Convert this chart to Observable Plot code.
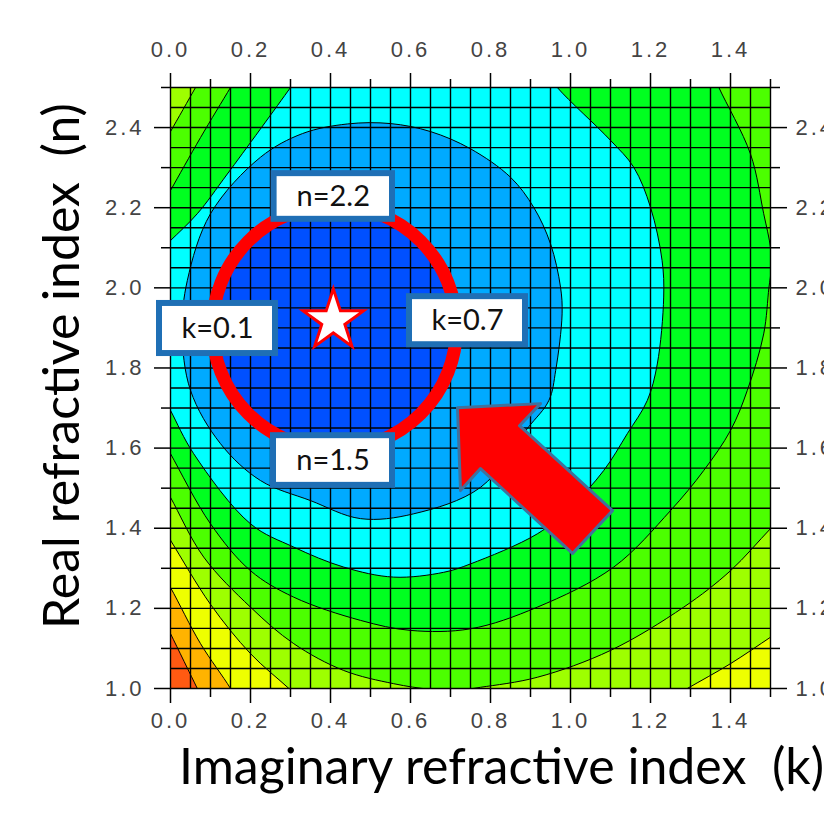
<!DOCTYPE html>
<html><head><meta charset="utf-8">
<script src="https://cdn.jsdelivr.net/npm/d3@7"></script>
<script src="https://cdn.jsdelivr.net/npm/@observablehq/plot@0.6"></script>
<style>
html,body{margin:0;padding:0;background:#fff;}
svg text{white-space:pre;}
g[aria-label$="tick label"] text{letter-spacing:3px;}
</style></head><body><div id="chart"></div>
<script>
// Axis ticks (k = imaginary index, n = real index)
const kMajorTicks = [0.0, 0.2, 0.4, 0.6, 0.8, 1.0, 1.2, 1.4];
const kMinorTicks = [0.1, 0.3, 0.5, 0.7, 0.9, 1.1, 1.3, 1.5];
const nMajorTicks = [1.0, 1.2, 1.4, 1.6, 1.8, 2.0, 2.2, 2.4];
const nMinorTicks = [1.1, 1.3, 1.5, 1.7, 1.9, 2.1, 2.3, 2.5];

// Contour band colours, level 0 (centre) to level 8 (bottom-left corner)
const levelColors = ["#0050FF", "#00AAFF", "#00FFFF", "#00FF20", "#4CFF00", "#9EFF00", "#EEFF00", "#FFB300", "#FF5A12"];

// Contour boundaries [k, n]: region "below level L"
const below1 = [[0.71,1.90],[0.67,2.05],[0.56,2.16],[0.41,2.20],[0.26,2.16],[0.15,2.05],[0.11,1.90],[0.15,1.75],[0.26,1.64],[0.41,1.60],[0.56,1.64],[0.67,1.75]];
const below2 = [[0.442,2.409],[0.55,2.41],[0.65,2.39],[0.75,2.347],[0.85,2.276],[0.908,2.201],[0.95,2.11],[0.975,2.002],[0.979,1.935],[0.963,1.794],[0.946,1.719],[0.893,1.65],[0.775,1.502],[0.608,1.436],[0.475,1.424],[0.35,1.469],[0.225,1.519],[0.125,1.611],[0.05,1.744],[0.029,1.893],[0.042,2.018],[0.1,2.185],[0.225,2.326],[0.33,2.385]];
const below3 = [[0.335,2.55],[0.3,2.5],[0.142,2.284],[0.067,2.185],[0,2.118],[-0.04,2.08],[-0.15,2.0],[-0.15,1.8],[-0.03,1.75],[0,1.694],[0.058,1.586],[0.2,1.411],[0.308,1.353],[0.433,1.303],[0.558,1.278],[0.683,1.29],[0.75,1.311],[0.917,1.386],[1.0,1.452],[1.083,1.544],[1.142,1.636],[1.192,1.719],[1.217,1.81],[1.233,1.977],[1.229,2.068],[1.2,2.201],[1.158,2.301],[1.10,2.368],[0.967,2.5],[0.93,2.55],[0.85,2.65],[0.4,2.65]];
const below4 = [[0.18,2.55],[0.15,2.5],[0.075,2.375],[0,2.243],[-0.03,2.19],[-0.15,2.1],[-0.15,1.7],[-0.03,1.64],[0,1.586],[0.1,1.411],[0.2,1.294],[0.308,1.228],[0.475,1.17],[0.6,1.145],[0.75,1.149],[0.917,1.203],[1.108,1.303],[1.25,1.444],[1.333,1.544],[1.4,1.644],[1.442,1.744],[1.483,1.885],[1.496,2.0],[1.502,2.05],[1.5,2.1],[1.483,2.185],[1.45,2.334],[1.371,2.5],[1.35,2.55],[1.3,2.65],[0.25,2.65]];
const below5 = [[0.09,2.55],[0.0625,2.5],[0,2.39],[-0.03,2.337],[-0.15,2.3],[-0.15,1.6],[-0.03,1.53],[0,1.477],[0.083,1.328],[0.2,1.203],[0.308,1.112],[0.433,1.045],[0.558,1.012],[0.65,0.998],[0.72,0.996],[0.775,1.003],[0.917,1.028],[1.10,1.095],[1.283,1.203],[1.4,1.294],[1.5,1.399],[1.56,1.46],[1.65,1.55],[1.65,2.65],[0.15,2.65]];
const below6 = [[-0.05,1.45],[0,1.37],[0.1,1.21],[0.2,1.087],[0.296,1.0],[0.35,0.95],[0.5,0.85],[1.1,0.85],[1.2,0.947],[1.292,1.0],[1.4,1.062],[1.5,1.128],[1.56,1.168],[1.65,1.25],[1.65,2.65],[-0.15,2.65],[-0.15,1.55]];
const below7 = [[-0.04,1.32],[0,1.252],[0.075,1.112],[0.15,1.0],[0.18,0.945],[0.3,0.85],[1.65,0.85],[1.65,2.65],[-0.15,2.65],[-0.15,1.4]];
const below8 = [[-0.03,1.198],[0,1.137],[0.067,1.0],[0.09,0.953],[0.2,0.85],[1.65,0.85],[1.65,2.65],[-0.15,2.65],[-0.15,1.3]];

// Annotations
const ringCenter = [{k: 0.41, n: 1.901}];
const starPoint = [{k: 0.407, n: 1.918}];
const arrowK = [0.7175, 0.925, 0.8725, 1.105, 1.005, 0.775, 0.725];
const arrowN = [1.701, 1.711, 1.656, 1.444, 1.337, 1.549, 1.494];
const boxLabels = ["n=2.2", "k=0.1", "k=0.7", "n=1.5"];
const boxK1 = [0.259, -0.0275, 0.5975, 0.2575];
const boxK2 = [0.555, 0.2625, 0.8875, 0.555];
const boxN1 = [2.171, 1.836, 1.858, 1.507];
const boxN2 = [2.285, 1.961, 1.978, 1.631];
const xTitle = ["Imaginary refractive index  (k)"];
const yTitle = ["Real refractive index  (n)"];

const gridK = d3.range(0, 31).map(i => i * 0.05);
const gridN = d3.range(0, 31).map(i => 1 + i * 0.05);

const regions = [
  {pts: below8, color: levelColors[7]},
  {pts: below7, color: levelColors[6]},
  {pts: below6, color: levelColors[5]},
  {pts: below5, color: levelColors[4]},
  {pts: below4, color: levelColors[3]},
  {pts: below3, color: levelColors[2]},
  {pts: below2, color: levelColors[1]},
  {pts: below1, color: levelColors[0]}
];

const boxes = boxLabels.map((t, i) => ({t, k1: boxK1[i], k2: boxK2[i], n1: boxN1[i], n2: boxN2[i]}));
const arrow = arrowK.map((k, i) => ({k, n: arrowN[i]}));

const px = d => d[0], py = d => d[1];
const axisStyle = {fontSize: 22, fill: "#444", stroke: "#000", strokeWidth: 1.5, label: null, fontFamily: "Liberation Sans, Arial, sans-serif"};

const chart = Plot.plot({
  width: 824, height: 813,
  marginLeft: 170, marginRight: 54, marginTop: 87, marginBottom: 125,
  x: {domain: [0, 1.5]},
  y: {domain: [1.0, 2.5]},
  style: {background: "white", overflow: "visible"},
  marks: [
    Plot.frame({fill: levelColors[8], stroke: "none"}),
    ...regions.map(r => Plot.line(r.pts, {x: px, y: py, fill: r.color, stroke: "none", curve: "catmull-rom-closed", clip: true})),
    Plot.ruleX(gridK, {stroke: "#000", strokeWidth: 1.4}),
    Plot.ruleY(gridN, {stroke: "#000", strokeWidth: 1.4}),
    ...regions.map(r => Plot.line(r.pts, {x: px, y: py, fill: "none", stroke: "#000", strokeWidth: 1, curve: "catmull-rom-closed", clip: true})),
    Plot.axisX({...axisStyle, ticks: kMajorTicks, anchor: "bottom", tickSize: 15, tickPadding: 9, tickFormat: d => d.toFixed(1)}),
    Plot.axisX({...axisStyle, ticks: kMinorTicks, anchor: "bottom", tickSize: 9, tickFormat: () => ""}),
    Plot.axisX({...axisStyle, ticks: kMajorTicks, anchor: "top", tickSize: 15, tickPadding: 16, tickFormat: d => d.toFixed(1)}),
    Plot.axisX({...axisStyle, ticks: kMinorTicks, anchor: "top", tickSize: 9, tickFormat: () => ""}),
    Plot.axisY({...axisStyle, ticks: nMajorTicks, anchor: "left", tickSize: 16, tickPadding: 10, tickFormat: d => d.toFixed(1)}),
    Plot.axisY({...axisStyle, ticks: nMinorTicks, anchor: "left", tickSize: 9, tickFormat: () => ""}),
    Plot.axisY({...axisStyle, ticks: nMajorTicks, anchor: "right", tickSize: 16, tickPadding: 9, tickFormat: d => d.toFixed(1)}),
    Plot.axisY({...axisStyle, ticks: nMinorTicks, anchor: "right", tickSize: 9, tickFormat: () => ""}),
    Plot.dot(ringCenter, {x: "k", y: "n", r: 122, fill: "none", stroke: "#FF0000", strokeWidth: 13}),
    Plot.line(arrow, {x: "k", y: "n", fill: "#FF0000", stroke: "#41719C", strokeWidth: 3, curve: "linear-closed"}),
    Plot.rect(boxes, {x1: "k1", x2: "k2", y1: "n1", y2: "n2", fill: "white", stroke: "#1F6FB5", strokeWidth: 6}),
    Plot.text(boxes, {x: d => (d.k1 + d.k2) / 2, y: d => (d.n1 + d.n2) / 2, text: "t", fontSize: 29, fontFamily: "Lato, sans-serif", fill: "#111"}),
    Plot.dot(starPoint, {x: "k", y: "n", symbol: "star", r: 19, fill: "white", stroke: "#FF0000", strokeWidth: 3}),
    Plot.text(xTitle, {text: d => d, frameAnchor: "bottom", textAnchor: "middle", dx: 31, dy: 95, lineAnchor: "bottom", fontSize: 50, fontFamily: "Lato, sans-serif", fill: "#000"}),
    Plot.text(yTitle, {text: d => d, frameAnchor: "left", textAnchor: "middle", rotate: -90, dx: -92, dy: -22, lineAnchor: "bottom", fontSize: 50, fontFamily: "Lato, sans-serif", fill: "#000"})
  ]
});
document.getElementById("chart").appendChild(chart);
</script></body></html>
